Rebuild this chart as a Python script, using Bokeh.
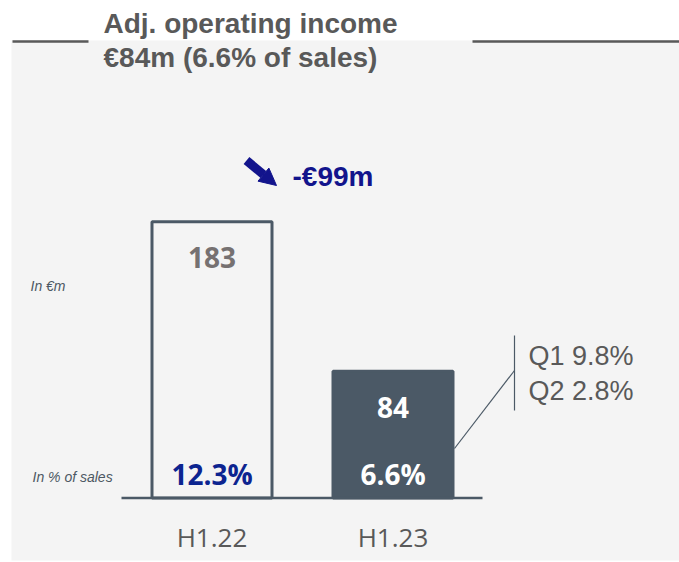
from bokeh.plotting import figure
from bokeh.models import Range1d, Arrow, NormalHead
from bokeh.core.properties import value
from bokeh.embed import file_html
from bokeh.resources import INLINE

# ---- data ----
periods = ["H1.22", "H1.23"]
income = [183, 84]                # adj. operating income, EUR m
margin_pct = [12.3, 6.6]          # in % of sales
quarter_labels = ["Q1 9.8%", "Q2 2.8%"]
title_lines = ["Adj. operating income", "€84m (6.6% of sales)"]
delta_label = "-€99m"
unit_labels = ["In €m", "In % of sales"]

# ---- styling ----
W, H = 679, 562
OX, OY = 0, 0              # where the figure lands on the page
BG = "#f4f4f4"
DARK = "#4b5966"
GREY_TXT = "#595959"
NAVY = "#0c2490"
ARROW_NAVY = "#12148c"
SX, SY = 181.0, 1.51       # px per category unit / px per EUR m
X0, Y0 = 211.5, 497.5      # screen position of first category centre / zero line


def X(px):
    return (px - X0) / SX


def Y(py):
    return (Y0 - py) / SY


p = figure(width=W, height=H, output_backend="svg", toolbar_location=None,
           x_range=Range1d(X(OX), X(OX + W)), y_range=Range1d(Y(OY + H), Y(OY)),
           min_border=0, min_border_left=0, min_border_right=0,
           min_border_top=0, min_border_bottom=0,
           outline_line_color=None, background_fill_color="white",
           border_fill_color="white")
p.axis.visible = False
p.grid.visible = False

# grey panel
p.quad(left=[X(11)], right=[X(700)], bottom=[Y(560)], top=[Y(40)],
       fill_color=BG, line_color=None)

# header rules
p.segment(x0=[X(12), X(472)], y0=[Y(41), Y(41)], x1=[X(88), X(700)], y1=[Y(41), Y(41)],
          line_color=GREY_TXT, line_width=2.5)

# title
p.text(x=[X(103), X(103)], y=[Y(22.5), Y(56.5)], text=title_lines,
       text_font=value("Liberation Sans"), text_font_style="bold",
       text_font_size="28px", text_color=GREY_TXT, text_baseline="middle")

# bars
xs = list(range(len(periods)))
p.vbar(x=xs, top=income, bottom=0, width=0.663,
       fill_color=[BG, DARK], line_color=DARK, line_width=3)

# baseline
p.segment(x0=[X(121)], y0=[0], x1=[X(482)], y1=[0], line_color=DARK, line_width=2.5)

# value labels
p.text(x=xs, y=[v - 24 for v in income], text=[str(v) for v in income],
       text_font=value("Open Sans"), text_font_style="bold", text_font_size="28px",
       text_color=["#767171", "white"], text_align="center", text_baseline="middle")
p.text(x=xs, y=[16, 16], text=[f"{v}%" for v in margin_pct],
       text_font=value("Open Sans"), text_font_style="bold", text_font_size="28px",
       text_color=[NAVY, "white"], text_align="center", text_baseline="middle")

# category labels
p.text(x=xs, y=[Y(536.5)] * 2, text=periods,
       text_font=value("Open Sans"), text_font_size="26px",
       text_color=GREY_TXT, text_align="center", text_baseline="middle")

# unit labels
p.text(x=[X(30), X(32)], y=[Y(285), Y(476)], text=unit_labels,
       text_font=value("Liberation Sans"), text_font_style="italic",
       text_font_size="14px", text_color="#4d5863", text_baseline="middle")

# delta arrow + label
p.add_layout(Arrow(end=NormalHead(size=17, fill_color=ARROW_NAVY, line_color=ARROW_NAVY),
                   x_start=X(246), y_start=Y(160), x_end=X(276), y_end=Y(185),
                   line_color=ARROW_NAVY, line_width=9))
p.text(x=[X(292)], y=[Y(176)], text=[delta_label],
       text_font=value("Liberation Sans"), text_font_style="bold",
       text_font_size="28px", text_color=ARROW_NAVY, text_baseline="middle")

# quarterly callout
p.segment(x0=[X(454), X(514)], y0=[Y(448), Y(335)], x1=[X(514), X(514)], y1=[Y(370), Y(410)],
          line_color=DARK, line_width=1.2)
p.text(x=[X(528), X(528)], y=[Y(355), Y(390)], text=quarter_labels,
       text_font=value("Liberation Sans"), text_font_size="27px",
       text_color=GREY_TXT, text_baseline="middle")

open("out.html", "w").write(file_html(p, INLINE))
